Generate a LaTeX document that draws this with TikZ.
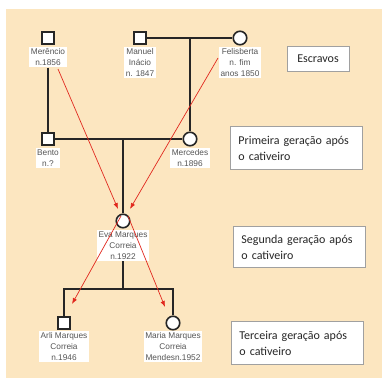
\documentclass[tikz,border=0pt]{standalone}
\usepackage{fontspec}
\newfontfamily\boxfont{Carlito}
\newfontfamily\labfont{Liberation Sans}
\usetikzlibrary{arrows.meta}
\definecolor{bg}{RGB}{252,230,192}
\definecolor{labgray}{RGB}{85,85,85}
\definecolor{boxedge}{RGB}{160,160,160}
\definecolor{redarr}{RGB}{225,40,30}
\begin{document}
\begin{tikzpicture}[x=1pt,y=-1pt,
  male/.style={draw=black!85,line width=1.6pt,fill=white,minimum size=12.5pt,inner sep=0pt},
  female/.style={draw=black!85,line width=1.6pt,fill=white,circle,minimum size=13.5pt,inner sep=0pt},
  lab/.style={fill=white,text=labgray,font=\labfont\fontsize{8.3}{11}\selectfont,align=center,inner sep=1.5pt,anchor=north},
  kin/.style={draw=black!85,line width=1.6pt},
  gen/.style={draw=boxedge,line width=0.9pt,fill=white,font=\boxfont\fontsize{12}{16}\selectfont,text=black!85,align=left,anchor=north west,inner xsep=8pt,inner ysep=0pt},
  rarrow/.style={draw=redarr,line width=0.7pt,-{Latex[length=6pt,width=4.5pt]}}]
\useasboundingbox (0,0) rectangle (382,381);
\fill[white] (0,0) rectangle (382,381);
\fill[bg] (6,9) rectangle (382,378);

% persons
\node[male] (mer) at (48,38) {};
\node[male] (man) at (140,38) {};
\node[female] (fel) at (240,38) {};
\node[male] (ben) at (48,139) {};
\node[female] (mce) at (190,139) {};
\node[female] (eva) at (123,221) {};
\node[male] (arli) at (64,323) {};
\node[female] (maria) at (173,323) {};

% labels
\node[lab] (merl) at (48,47) {Merêncio\\n.1856};
\node[lab] (manl) at (140,47) {Manuel\\Inácio\\n. 1847};
\node[lab] (fell) at (240,47) {Felisberta\\n. fim\\anos 1850};
\node[lab] (benl) at (48,148) {Bento\\n.?};
\node[lab] (mcel) at (190,148) {Mercedes\\n.1896};
\node[lab] (eval) at (123,230) {Eva Marques\\Correia\\n.1922};
\node[lab] (arlil) at (64,331) {Arli Marques\\Correia\\n.1946};
\node[lab] (marial) at (173,331) {Maria Marques\\Correia\\Mendesn.1952};

% kinship lines
\coordinate (j1) at (190,38);
\coordinate (j2) at (123,139);
\coordinate (j3) at (123,289);
\coordinate (ja) at (64,289);
\coordinate (jb) at (173,289);
\draw[kin] (man.east) -- (fel.west);
\draw[kin] (j1) -- (mce.north);
\draw[kin] (merl.south) -- (ben.north);
\draw[kin] (ben.east) -- (mce.west);
\draw[kin] (j2) -- (eva.north);
\draw[kin] (eval.south) -- (j3);
\draw[kin] (arli.north) -- (ja) -- (jb) -- (maria.north);

% generation boxes
\node[gen,minimum width=62pt,minimum height=25pt,align=center,anchor=center] (g0) at (318,58.5) {Escravos};
\node[gen,text width=116pt,minimum height=43pt] (g1) at (230,126) {Primeira geração após\\o cativeiro};
\node[gen,text width=116pt,minimum height=41pt] (g2) at (233,226) {Segunda geração após\\o cativeiro};
\node[gen,text width=116pt,minimum height=43pt] (g3) at (231,321) {Terceira geração após\\o cativeiro};

% red arrows
\coordinate (r1s) at (58,69);
\coordinate (r1e) at (118,209);
\coordinate (r2s) at (218,58);
\coordinate (r2e) at (130,209);
\coordinate (r3s) at (121,216);
\coordinate (r3e) at (72,304);
\coordinate (r4s) at (128,216);
\coordinate (r4e) at (165,307);
\draw[rarrow] (r1s) -- (r1e);
\draw[rarrow] (r2s) -- (r2e);
\draw[rarrow] (r3s) -- (r3e);
\draw[rarrow] (r4s) -- (r4e);
\end{tikzpicture}
\end{document}
